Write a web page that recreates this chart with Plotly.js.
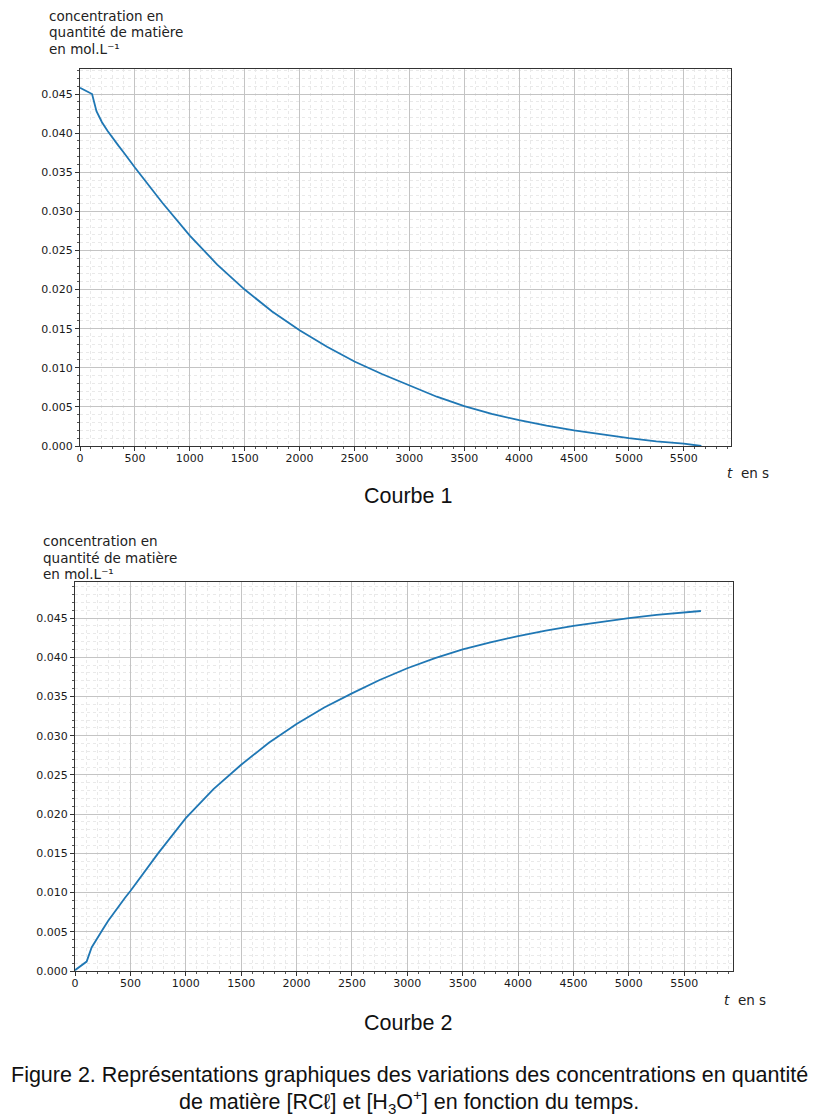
<!DOCTYPE html>
<html lang="fr">
<head>
    <meta charset="UTF-8">
    <title>Courbes 1 et 2</title>
    <script src="https://cdn.plot.ly/plotly-3.0.1.min.js"></script>
    <style>
        body { margin: 0; background: #fff; }
    </style>
</head>

<body>

<div id="plot"></div>

</body>

<script>
    // Courbe 1 : [RCl] en fonction du temps
    let t1 = [0, 110, 150, 200, 250, 300, 350, 400, 500, 750, 1000, 1250, 1500, 1750, 2000, 2250,
        2500, 2750, 3000, 3250, 3500, 3750, 4000, 4250, 4500, 4750, 5000, 5250, 5500, 5660]
    let c1 = [0.0458, 0.0450, 0.0428, 0.0414, 0.0403, 0.0393, 0.0384, 0.0375, 0.0356, 0.0311,
        0.0269, 0.0232, 0.0200, 0.0172, 0.0148, 0.0127, 0.0108, 0.0092, 0.0077, 0.0063,
        0.0051, 0.0041, 0.0033, 0.0026, 0.0020, 0.0015, 0.0010, 0.0006, 0.0003, 0.0000]

    // Courbe 2 : [H3O+] en fonction du temps
    let t2 = [0, 105, 150, 200, 250, 300, 350, 400, 450, 500, 750, 1000, 1250, 1500, 1750, 2000,
        2250, 2500, 2750, 3000, 3250, 3500, 3750, 4000, 4250, 4500, 4750, 5000, 5250, 5500, 5650]
    let c2 = [0.0001, 0.0012, 0.0030, 0.0042, 0.0053, 0.0064, 0.0074, 0.0084, 0.0093, 0.0102,
        0.0150, 0.0195, 0.0232, 0.0263, 0.0291, 0.0315, 0.0336, 0.0354, 0.0371, 0.0386,
        0.0399, 0.0410, 0.0419, 0.0427, 0.0434, 0.0440, 0.0445, 0.0450, 0.0454, 0.0457, 0.0459]

    let yLabelLines = ["concentration en", "quantité de matière", "en mol.L⁻¹"]
    let captionLines = [
        "Figure 2. Représentations graphiques des variations des concentrations en quantité",
        "de matière [RCℓ] et [H<sub>3</sub>O<sup>+</sup>] en fonction du temps."
    ]

    let W = 820
    let H = 1120
    let px = x => x / W
    let py = y => 1 - y / H

    let tickFont = {family: "DejaVu Sans", size: 11, color: "#1a1a1a"}

    function xAxis(domain, range, anchor) {
        return {
            domain: domain, range: range, anchor: anchor,
            dtick: 500, tick0: 0, ticks: "outside", ticklen: 4, tickcolor: "#333",
            showline: true, linecolor: "#333", linewidth: 1, mirror: true,
            showgrid: true, gridcolor: "#c4c4c4", gridwidth: 1, zeroline: false,
            tickfont: tickFont, ticklabelstandoff: -2,
            minor: {dtick: 100, ticks: "outside", ticklen: 2, tickcolor: "#555",
                showgrid: true, gridcolor: "#e9e9e9", griddash: "dot", gridwidth: 1}
        }
    }

    function yAxis(domain, range, anchor) {
        return {
            domain: domain, range: range, anchor: anchor,
            dtick: 0.005, tick0: 0, tickformat: ".3f", ticks: "outside", ticklen: 4, tickcolor: "#333",
            showline: true, linecolor: "#333", linewidth: 1, mirror: true,
            showgrid: true, gridcolor: "#c4c4c4", gridwidth: 1, zeroline: false,
            tickfont: tickFont,
            minor: {dtick: 0.001, ticks: "outside", ticklen: 2, tickcolor: "#555",
                showgrid: true, gridcolor: "#e9e9e9", griddash: "dot", gridwidth: 1}
        }
    }

    let data = [
        {x: t1, y: c1, type: "scatter", mode: "lines", xaxis: "x", yaxis: "y",
            line: {color: "#1f77b4", width: 1.8}, hoverinfo: "skip"},
        {x: t2, y: c2, type: "scatter", mode: "lines", xaxis: "x2", yaxis: "y2",
            line: {color: "#1f77b4", width: 1.8}, hoverinfo: "skip"}
    ]

    let labelFont = {family: "DejaVu Sans", size: 13.5, color: "#222"}
    let captionFont = {family: "Liberation Sans", size: 21.5, color: "#111"}

    let annotations = []
    yLabelLines.forEach((line, i) => {
        annotations.push({text: line, x: px(47), y: py(16 + i * 16.5), xanchor: "left", yanchor: "middle", font: labelFont})
        annotations.push({text: line, x: px(41), y: py(541 + i * 16.5), xanchor: "left", yanchor: "middle", font: labelFont})
    })
    annotations.push(
        {text: "<i>t</i>  en s", x: px(725), y: py(473), xanchor: "left", yanchor: "middle", font: labelFont},
        {text: "<i>t</i>  en s", x: px(722), y: py(1000), xanchor: "left", yanchor: "middle", font: labelFont},
        {text: "Courbe 1", x: px(408), y: py(496), xanchor: "center", yanchor: "middle", font: captionFont},
        {text: "Courbe 2", x: px(408), y: py(1023), xanchor: "center", yanchor: "middle", font: captionFont}
    )
    captionLines.forEach((line, i) => {
        annotations.push({text: line, x: px(409), y: py(1075 + i * 26), xanchor: "center", yanchor: "middle", font: captionFont})
    })
    annotations.forEach(a => { a.xref = "paper"; a.yref = "paper"; a.showarrow = false })

    let layout = {
        width: W, height: H,
        margin: {l: 0, r: 0, t: 0, b: 0},
        paper_bgcolor: "#fff", plot_bgcolor: "#fff",
        showlegend: false,
        xaxis: xAxis([px(80), px(731)], [0, 5930], "y"),
        yaxis: yAxis([py(446), py(69)], [0, 0.0482], "x"),
        xaxis2: xAxis([px(75), px(733)], [0, 5940], "y2"),
        yaxis2: yAxis([py(971), py(582)], [0, 0.0496], "x2"),
        annotations: annotations
    }

    Plotly.newPlot("plot", data, layout, {staticPlot: true})
</script>
</html>
